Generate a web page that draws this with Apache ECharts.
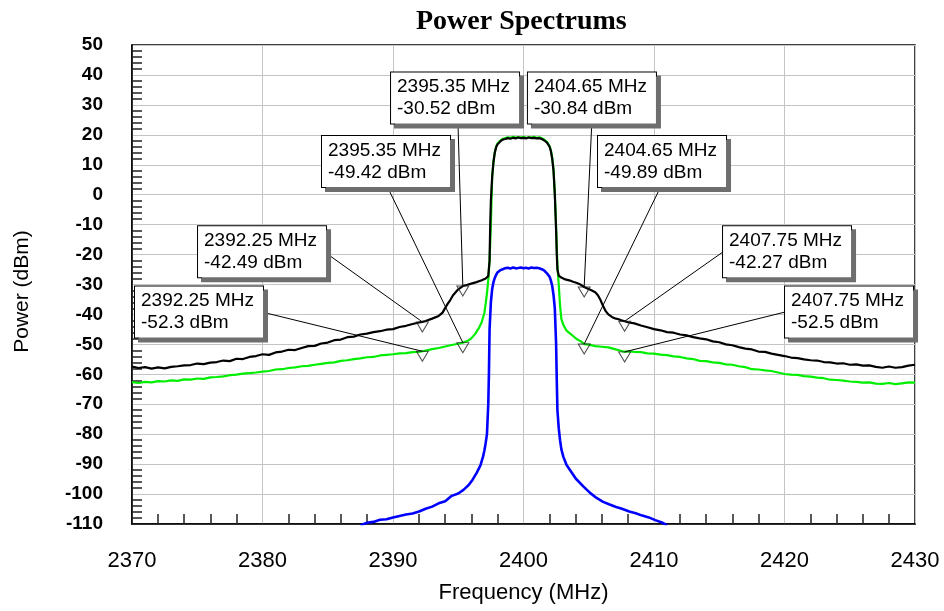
<!DOCTYPE html>
<html>
<head>
<meta charset="utf-8">
<title>Power Spectrums</title>
<script src="https://cdn.jsdelivr.net/npm/echarts@6/dist/echarts.min.js"></script>
<style>
  html, body { margin: 0; padding: 0; background: #fff; }
  #chart { width: 944px; height: 611px; }
</style>
</head>
<body>
<div id="chart"></div>
<script>
// Axis ranges and ticks
const xTicks = [2370, 2380, 2390, 2400, 2410, 2420, 2430];
const yTicks = [50, 40, 30, 20, 10, 0, -10, -20, -30, -40, -50, -60, -70, -80, -90, -100, -110];

// Black trace: frequency (MHz) and power (dBm)
const blackFreq = [
  2370.0, 2370.5, 2371.0, 2371.5, 2372.0, 2372.5, 2373.0, 2373.5, 2374.0, 2374.5,
  2375.0, 2375.5, 2376.0, 2376.5, 2377.0, 2377.5, 2378.0, 2378.5, 2379.0, 2379.5,
  2380.0, 2380.5, 2381.0, 2381.5, 2382.0, 2382.5, 2383.0, 2383.5, 2384.0, 2384.5,
  2385.0, 2385.5, 2386.0, 2386.5, 2387.0, 2387.5, 2388.0, 2388.5, 2389.0, 2389.5,
  2390.0, 2390.5, 2391.0, 2391.5, 2392.0, 2392.25, 2392.5, 2393.0, 2393.5,
  2393.8, 2394.0, 2394.2, 2394.4, 2394.6, 2394.8, 2395.0, 2395.35, 2395.7, 2396.0,
  2396.4, 2396.8, 2397.1, 2397.3, 2397.4, 2397.45, 2397.5, 2397.6, 2397.7, 2397.8,
  2397.9, 2398.0, 2398.2, 2398.4, 2398.6, 2398.8, 2399.0, 2399.2, 2399.4, 2399.6,
  2399.8, 2400.0, 2400.2, 2400.4, 2400.6, 2400.8, 2401.0, 2401.2, 2401.4, 2401.6,
  2401.8, 2402.0, 2402.1, 2402.2, 2402.3, 2402.4, 2402.5, 2402.55, 2402.6, 2402.7,
  2402.9, 2403.2, 2403.5, 2403.8, 2404.1, 2404.4, 2404.65, 2404.9, 2405.2, 2405.5,
  2405.7, 2405.9, 2406.1, 2406.3, 2406.5, 2406.8, 2407.0, 2407.3, 2407.5, 2407.75,
  2408.0, 2408.5, 2409.0, 2409.5, 2410.0, 2410.5, 2411.0, 2411.5, 2412.0, 2412.5,
  2413.0, 2413.5, 2414.0, 2414.5, 2415.0, 2415.5, 2416.0, 2416.5, 2417.0, 2417.5,
  2418.0, 2418.5, 2419.0, 2419.5, 2420.0, 2420.5, 2421.0, 2421.5, 2422.0, 2422.5,
  2423.0, 2423.5, 2424.0, 2424.5, 2425.0, 2425.5, 2426.0, 2426.5, 2427.0, 2427.5,
  2428.0, 2428.5, 2429.0, 2429.5, 2430.0
];
const blackPower = [
  -57.4, -57.9, -57.6, -58.1, -57.7, -58.0, -57.5, -57.3, -57.0, -56.9,
  -56.4, -56.6, -56.1, -55.9, -55.4, -55.6, -54.8, -54.9, -54.2, -53.9,
  -53.3, -53.5, -52.7, -52.4, -51.8, -51.9, -51.2, -50.6, -50.5, -49.7,
  -49.4, -48.6, -48.4, -47.6, -47.4, -46.7, -46.4, -45.9, -45.6, -45.1,
  -44.9, -44.2, -43.8, -43.2, -42.7, -42.49, -42.2, -41.4, -40.5,
  -39.4, -37.8, -36.4, -35.1, -33.6, -32.6, -31.6, -30.52, -30.1, -29.7,
  -29.2, -28.6, -28.0, -27.2, -22.0, -10.0, -2.0, 6.0, 11.0, 14.0,
  15.8, 16.8, 17.7, 18.4, 18.6, 18.9, 18.7, 19.0, 18.8, 19.1,
  18.9, 19.0, 18.8, 19.1, 18.9, 19.0, 18.8, 18.9, 18.6, 18.1,
  17.4, 16.0, 14.5, 12.0, 8.0, 0.0, -12.0, -20.0, -25.0, -27.0,
  -27.7, -28.3, -28.6, -29.1, -29.5, -30.1, -30.84, -31.3, -31.9, -32.6,
  -33.6, -35.2, -37.2, -38.9, -40.0, -40.9, -41.3, -41.6, -42.0, -42.27,
  -42.6, -43.0, -43.7, -44.3, -44.9, -45.3, -45.9, -46.1, -46.7, -47.0,
  -47.6, -48.0, -48.3, -49.0, -49.3, -50.0, -50.3, -50.9, -51.4, -51.7,
  -52.4, -52.5, -53.1, -53.5, -53.9, -54.4, -54.6, -55.0, -55.3, -55.4,
  -55.9, -56.0, -56.4, -56.3, -56.8, -56.7, -57.1, -57.0, -57.5, -57.8,
  -57.4, -57.8, -57.6, -57.1, -56.8
];

// Green trace
const greenFreq = [
  2370.0, 2370.5, 2371.0, 2371.5, 2372.0, 2372.5, 2373.0, 2373.5, 2374.0, 2374.5,
  2375.0, 2375.5, 2376.0, 2376.5, 2377.0, 2377.5, 2378.0, 2378.5, 2379.0, 2379.5,
  2380.0, 2380.5, 2381.0, 2381.5, 2382.0, 2382.5, 2383.0, 2383.5, 2384.0, 2384.5,
  2385.0, 2385.5, 2386.0, 2386.5, 2387.0, 2387.5, 2388.0, 2388.5, 2389.0, 2389.5,
  2390.0, 2390.5, 2391.0, 2391.5, 2392.0, 2392.25, 2392.5, 2393.0, 2393.5, 2394.0,
  2394.5, 2395.0, 2395.35, 2395.7, 2396.0, 2396.3, 2396.6, 2396.8, 2397.0, 2397.1,
  2397.2, 2397.3, 2397.4, 2397.5, 2397.55, 2397.6, 2397.7, 2397.8, 2397.9, 2398.0,
  2398.2, 2398.4, 2398.6, 2398.8, 2399.0, 2399.2, 2399.4, 2399.6, 2399.8, 2400.0,
  2400.2, 2400.4, 2400.6, 2400.8, 2401.0, 2401.2, 2401.4, 2401.6, 2401.8, 2402.0,
  2402.1, 2402.2, 2402.3, 2402.4, 2402.5, 2402.6, 2402.7, 2402.8, 2402.9, 2403.05,
  2403.3, 2403.6, 2403.8, 2404.1, 2404.4, 2404.65, 2405.0, 2405.5, 2406.0, 2406.5,
  2407.0, 2407.5, 2407.75, 2408.0, 2408.5, 2409.0, 2409.5, 2410.0, 2410.5, 2411.0,
  2411.5, 2412.0, 2412.5, 2413.0, 2413.5, 2414.0, 2414.5, 2415.0, 2415.5, 2416.0,
  2416.5, 2417.0, 2417.5, 2418.0, 2418.5, 2419.0, 2419.5, 2420.0, 2420.5, 2421.0,
  2421.5, 2422.0, 2422.5, 2423.0, 2423.5, 2424.0, 2424.5, 2425.0, 2425.5, 2426.0,
  2426.5, 2427.0, 2427.5, 2428.0, 2428.5, 2429.0, 2429.5, 2430.0
];
const greenPower = [
  -62.6, -62.9, -62.5, -62.7, -62.3, -62.4, -62.0, -62.2, -61.7, -61.8,
  -61.4, -61.5, -61.0, -60.9, -60.7, -60.3, -60.1, -59.8, -59.6, -59.4,
  -59.1, -58.9, -58.4, -58.3, -57.9, -57.7, -57.3, -57.2, -56.8, -56.5,
  -56.2, -56.0, -55.5, -55.3, -54.9, -54.7, -54.3, -54.2, -53.7, -53.5,
  -53.3, -53.0, -52.9, -52.6, -52.5, -52.3, -52.1, -51.6, -51.2, -50.7,
  -50.2, -49.8, -49.42, -48.9, -48.0, -46.5, -44.4, -42.5, -39.5, -36.5,
  -33.0, -28.5, -22.0, -10.0, -2.0, 6.0, 11.0, 14.2, 16.0, 17.0,
  18.0, 18.6, 18.9, 19.2, 19.0, 19.3, 19.1, 19.2, 19.1, 19.3,
  19.0, 19.2, 19.1, 19.3, 19.0, 19.2, 18.9, 18.4, 17.6, 16.2,
  14.8, 12.3, 8.5, 0.5, -11.0, -24.0, -30.0, -37.0, -41.5, -43.5,
  -45.4, -46.5, -47.2, -48.3, -49.0, -49.89, -50.1, -50.6, -50.8, -51.0,
  -51.6, -52.2, -52.5, -52.3, -52.5, -52.6, -53.0, -53.1, -53.4, -53.6,
  -54.0, -54.2, -54.7, -54.9, -55.5, -55.6, -56.0, -56.2, -56.7, -56.8,
  -57.3, -57.6, -58.3, -58.4, -58.7, -58.9, -59.4, -59.9, -60.1, -60.2,
  -60.6, -60.8, -61.1, -61.3, -61.8, -61.9, -62.1, -62.4, -62.5, -62.8,
  -62.7, -63.1, -63.2, -62.9, -63.3, -63.0, -62.7, -62.8
];

// Blue trace
const blueFreq = [
  2387.5, 2388.0, 2388.5, 2389.0, 2389.5, 2390.0, 2390.5, 2391.0, 2391.5, 2392.0,
  2392.5, 2393.0, 2393.5, 2394.0, 2394.5, 2395.0, 2395.4, 2395.8, 2396.1, 2396.4,
  2396.7, 2396.9, 2397.0, 2397.1, 2397.2, 2397.3, 2397.35, 2397.4, 2397.5, 2397.6,
  2397.7, 2397.8, 2397.9, 2398.0, 2398.2, 2398.4, 2398.6, 2398.8, 2399.0, 2399.2,
  2399.4, 2399.6, 2399.8, 2400.0, 2400.2, 2400.4, 2400.6, 2400.8, 2401.0, 2401.2,
  2401.4, 2401.6, 2401.8, 2402.0, 2402.1, 2402.2, 2402.3, 2402.4, 2402.5, 2402.55,
  2402.6, 2402.7, 2402.8, 2402.9, 2403.05, 2403.3, 2403.6, 2404.0, 2404.6, 2405.1,
  2405.6, 2406.1, 2406.6, 2407.1, 2407.6, 2408.1, 2408.6, 2409.1, 2409.6, 2410.1,
  2410.6, 2411.0
];
const bluePower = [
  -110.5, -109.6, -109.3, -108.6, -108.4, -107.8, -107.3, -106.8, -106.5, -105.8,
  -104.9, -104.2, -103.1, -102.4, -100.6, -99.8, -98.6, -97.0, -95.2, -93.0,
  -90.4, -87.5, -85.5, -83.0, -80.0, -70.0, -60.0, -45.0, -36.0, -31.5,
  -29.2, -27.8, -26.8, -26.0, -25.3, -24.9, -24.6, -24.4, -24.7, -24.3,
  -24.6, -24.5, -24.3, -24.6, -24.4, -24.7, -24.3, -24.5, -24.4, -24.6,
  -24.9, -25.4, -26.3, -27.4, -28.7, -30.5, -33.5, -38.0, -50.0, -62.0,
  -72.0, -78.0, -82.0, -85.0, -87.5, -90.3, -92.2, -94.8, -97.5, -99.6,
  -101.3, -102.6, -103.5, -104.3, -105.0, -105.8, -106.4, -107.2, -107.8, -108.7,
  -109.5, -110.4
];

// Marker readouts
const markerFreq  = [2395.35, 2404.65, 2395.35, 2404.65, 2392.25, 2392.25, 2407.75, 2407.75];
const markerPower = [-30.52, -30.84, -49.42, -49.89, -42.49, -52.3, -42.27, -52.5];

// Readout box placement (left edge / vertical middle) and leader start, in axis units
const boxAnchor = [
  [2389.85, 32.3], [2400.34, 32.3], [2384.56, 11.1], [2405.71, 11.1],
  [2375.06, -19.1], [2370.23, -39.2], [2415.29, -19.1], [2420.04, -39.2]
];
const leaderStart = [
  [2394.98, 23.6], [2405.23, 23.6], [2389.62, 2.2], [2410.46, 2.2],
  [2384.87, -19.5], [2379.96, -39.2], [2415.29, -19.1], [2420.04, -39.2]
];

const zip = (xs, ys) => xs.map((x, i) => [x, ys[i]]);
const fmtFreq = f => f.toFixed(2) + ' MHz';
const fmtPow = p => String(p) + ' dBm';

const chart = echarts.init(document.getElementById('chart'), null, { renderer: 'canvas' });

const sansFont = 'Arial, "Liberation Sans", sans-serif';

const traceLine = (name, data, color, width) => ({
  name: name,
  type: 'line',
  data: data,
  showSymbol: false,
  symbol: 'none',
  smooth: false,
  lineStyle: { color: color, width: width },
  itemStyle: { color: color },
  animation: false,
  clip: true,
  z: 3
});

const option = {
  animation: false,
  backgroundColor: '#ffffff',
  title: {
    text: 'Power Spectrums',
    left: 411,
    top: 3,
    textStyle: {
      fontFamily: '"Times New Roman", "Liberation Serif", serif',
      fontWeight: 'bold',
      fontSize: 28,
      color: '#000'
    }
  },
  grid: {
    left: 132, right: 29, top: 45, bottom: 87,
    show: true,
    borderColor: '#000',
    borderWidth: 1.5,
    backgroundColor: '#fff'
  },
  xAxis: {
    type: 'value',
    min: xTicks[0],
    max: xTicks[xTicks.length - 1],
    interval: 10,
    name: 'Frequency (MHz)',
    nameLocation: 'middle',
    nameGap: 58,
    nameTextStyle: { fontFamily: sansFont, fontSize: 22, color: '#000' },
    axisLine: { show: true, onZero: false, lineStyle: { color: '#000', width: 1.5 } },
    axisTick: { show: false, inside: true },
    minorTick: { show: true, splitNumber: 5, length: 10, lineStyle: { color: '#222', width: 1.5 } },
    axisLabel: {
      margin: 26,
      fontFamily: sansFont,
      fontSize: 22,
      color: '#000',
      formatter: v => String(v)
    },
    splitLine: { show: true, lineStyle: { color: '#c4c4c4', width: 1 } },
    minorSplitLine: { show: false }
  },
  yAxis: {
    type: 'value',
    min: yTicks[yTicks.length - 1],
    max: yTicks[0],
    interval: 10,
    name: 'Power (dBm)',
    nameLocation: 'middle',
    nameGap: 99,
    nameTextStyle: { fontFamily: sansFont, fontSize: 21, color: '#000', padding: [0, 14, 0, 0] },
    axisLine: { show: true, onZero: false, lineStyle: { color: '#000', width: 1.5 } },
    axisTick: { show: false, inside: true },
    minorTick: { show: true, splitNumber: 5, length: 10, lineStyle: { color: '#222', width: 1.5 } },
    axisLabel: {
      margin: 29,
      fontFamily: sansFont,
      fontSize: 19,
      fontWeight: 'bold',
      color: '#000'
    },
    splitLine: { show: true, lineStyle: { color: '#c4c4c4', width: 1 } },
    minorSplitLine: { show: false }
  },
  series: [
    traceLine('Green', zip(greenFreq, greenPower), '#00ee00', 2.2),
    traceLine('Black', zip(blackFreq, blackPower), '#000000', 2.2),
    traceLine('Blue', zip(blueFreq, bluePower), '#0000ff', 2.6),
    {
      name: 'Markers',
      type: 'scatter',
      data: zip(markerFreq, markerPower),
      symbol: 'path://M0,0L12,0L6,10Z',
      symbolSize: [12, 10],
      symbolOffset: [0, 5],
      itemStyle: { color: 'rgba(0,0,0,0)', borderColor: '#222', borderWidth: 1 },
      silent: true,
      animation: false,
      z: 5,
      markLine: {
        silent: true,
        animation: false,
        symbol: ['none', 'none'],
        label: { show: false },
        lineStyle: { color: '#000', width: 1, type: 'solid' },
        data: markerFreq.map((f, i) => [
          { coord: [f, markerPower[i]] },
          { coord: leaderStart[i] }
        ])
      },
      markPoint: {
        silent: true,
        animation: false,
        symbol: 'rect',
        symbolSize: 1,
        itemStyle: { color: 'rgba(0,0,0,0)' },
        label: {
          show: true,
          position: 'inside',
          fontFamily: sansFont,
          fontSize: 19,
          lineHeight: 22,
          color: '#000',
          align: 'left',
          verticalAlign: 'middle',
          backgroundColor: '#fff',
          borderColor: '#000',
          borderWidth: 1,
          padding: [4, 9, 3, 6],
          shadowColor: '#6e6e6e',
          shadowBlur: 0,
          shadowOffsetX: 4,
          shadowOffsetY: 4
        },
        data: markerFreq.map((f, i) => ({
          coord: boxAnchor[i],
          label: { formatter: fmtFreq(f) + '\n' + fmtPow(markerPower[i]) }
        }))
      }
    }
  ]
};

chart.setOption(option);
</script>
</body>
</html>
